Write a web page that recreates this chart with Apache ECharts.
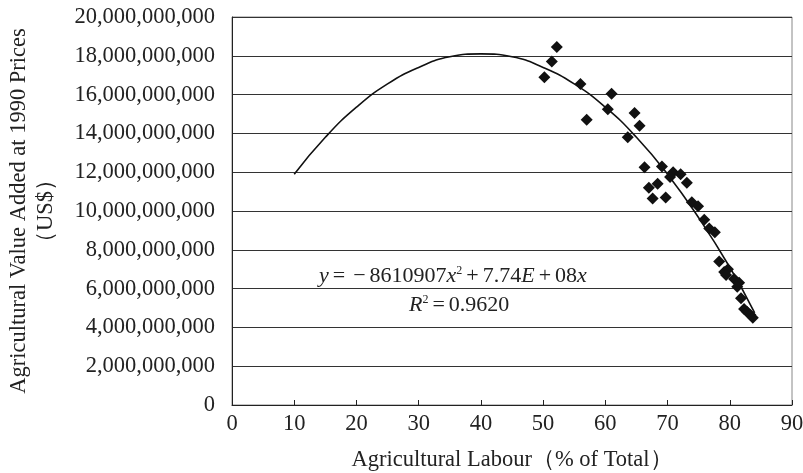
<!DOCTYPE html>
<html><head><meta charset="utf-8">
<script src="https://cdn.jsdelivr.net/npm/echarts@6/dist/echarts.min.js"></script>
<style>html,body{margin:0;padding:0;background:#fff}#c{width:803px;height:473px}</style>
</head><body><div id="c"></div>
<script>
// Scatter: agricultural labour (% of total)
const labourPct = [50.2,51.4,52.2,56.0,57.0,60.4,61.0,63.6,64.7,65.5,66.3,69.1,70.9,70.4,72.1,73.1,68.4,67.0,67.6,69.7,73.9,74.9,75.9,76.7,77.6,78.3,79.1,79.7,79.4,80.7,81.5,81.2,81.8,82.3,82.8,83.3,83.7];
// Scatter: agricultural value added (US$)
const valueAdded = [16.9e9,17.7e9,18.45e9,16.55e9,14.7e9,15.25e9,16.05e9,13.8e9,15.05e9,14.4e9,12.25e9,12.3e9,12.0e9,11.75e9,11.9e9,11.45e9,11.4e9,11.2e9,10.65e9,10.7e9,10.45e9,10.25e9,9.55e9,9.1e9,8.9e9,7.4e9,6.85e9,7.0e9,6.7e9,6.5e9,6.3e9,6.1e9,5.5e9,4.95e9,4.8e9,4.65e9,4.5e9];
// Trend line
const trendX = [10,15,20,25,30,35,40,45,50,55,60,65,70,75,80,84];
const trendY = [11.9e9,13.8e9,15.35e9,16.55e9,17.4e9,17.95e9,18.1e9,17.95e9,17.4e9,16.55e9,15.35e9,13.8e9,11.9e9,9.65e9,7.1e9,4.75e9];
const xTicks = {min:0, max:90, interval:10};
const yTicks = {min:0, max:20e9, interval:2e9};
const eqText = '{i|y}{o|=}{o|−}8610907{i|x}{s|2}{o|+}7.74{i|E}{o|+}08{i|x}';
const r2Text = '{i|R}{s|2}{o|=}0.9620';

const font = 'Liberation Serif';
const fs = 22.5;
const chart = echarts.init(document.getElementById('c'));
const rich = {
  i:{fontFamily:font,fontSize:22,fontStyle:'italic',fill:'#222'},
  o:{fontFamily:font,fontSize:22,fill:'#222',padding:[0,4,0,4]},
  s:{fontFamily:font,fontSize:12,fill:'#222',verticalAlign:'top',padding:[0,0,10,0]}
};
chart.setOption({
  animation:false,
  backgroundColor:'#fff',
  grid:{left:232,right:11,top:17,bottom:68,show:true,borderColor:'#888',borderWidth:1,outerBoundsMode:'none',containLabel:false},
  xAxis:{type:'value',min:xTicks.min,max:xTicks.max,interval:xTicks.interval,
    name:'Agricultural Labour（% of Total）',nameLocation:'middle',nameGap:44,
    nameTextStyle:{fontFamily:font,fontSize:fs,color:'#222'},
    axisLine:{lineStyle:{color:'#222',width:1}},
    axisTick:{inside:true,length:5,lineStyle:{color:'#222'}},
    axisLabel:{fontFamily:font,fontSize:fs,color:'#222',margin:8},
    splitLine:{show:false}},
  yAxis:{type:'value',min:yTicks.min,max:yTicks.max,interval:yTicks.interval,
    name:'Agricultural Value Added at 1990 Prices\n（US$）',nameLocation:'middle',nameGap:172,
    nameTextStyle:{fontFamily:font,fontSize:fs,color:'#222',lineHeight:27},
    axisLine:{lineStyle:{color:'#222',width:1}},
    axisTick:{show:false},
    axisLabel:{fontFamily:font,fontSize:fs,color:'#222',margin:17,
      formatter:v=>v.toLocaleString('en-US')},
    splitLine:{lineStyle:{color:'#333',width:1}}},
  series:[
    {type:'line',data:trendX.map((x,i)=>[x,trendY[i]]),smooth:true,showSymbol:false,
      lineStyle:{color:'#111',width:1.6},z:3},
    {type:'scatter',data:labourPct.map((x,i)=>[x,valueAdded[i]]),symbol:'diamond',symbolSize:12,
      itemStyle:{color:'#111',opacity:1},z:4}
  ],
  graphic:[
    {type:'text',left:319,top:265,style:{text:eqText,fontFamily:font,fontSize:22,fill:'#222',rich:rich}},
    {type:'text',left:409,top:294,style:{text:r2Text,fontFamily:font,fontSize:22,fill:'#222',rich:rich}}
  ]
});
</script></body></html>
